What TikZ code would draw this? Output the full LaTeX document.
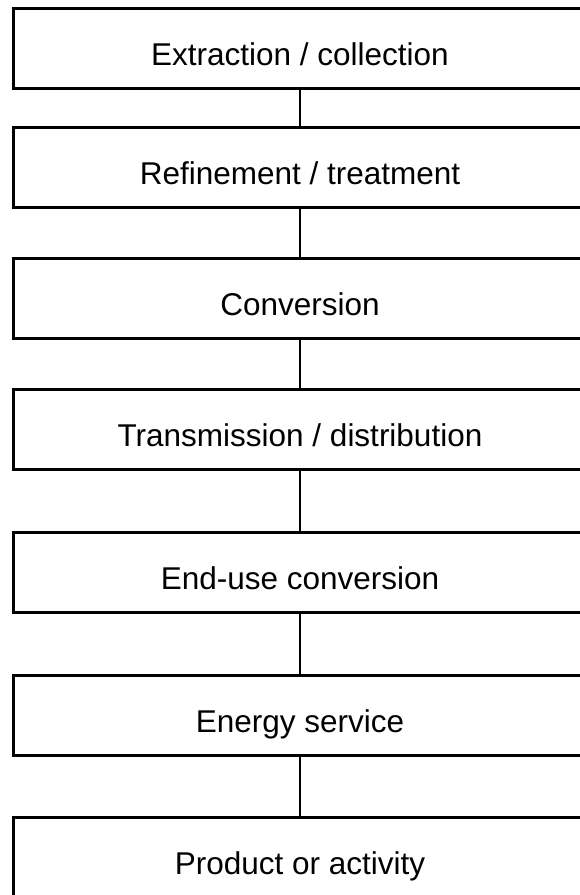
\documentclass[tikz,border=0pt]{standalone}
\usepackage{fontspec}
\setmainfont{Liberation Sans}
\begin{document}
\begin{tikzpicture}[x=1pt,y=-1pt,
  stagebox/.style={draw=black, line width=3pt, rectangle, minimum width=574pt, minimum height=80pt, inner sep=0pt, text height=34pt, text depth=0pt, font=\fontsize{31.5}{36}\selectfont},
  link/.style={draw=black, line width=2.6pt}]
\clip (0,0) rectangle (580,895);
\fill[white] (0,0) rectangle (580,895);
\node[stagebox] (b1) at (300,48) {Extraction / collection};
\node[stagebox] (b2) at (300,167) {Refinement / treatment};
\node[stagebox] (b3) at (300,298) {Conversion};
\node[stagebox] (b4) at (300,429.5) {Transmission / distribution};
\node[stagebox] (b5) at (300,572.5) {End-use conversion};
\node[stagebox] (b6) at (300,715) {Energy service};
\node[stagebox] (b7) at (300,857) {Product or activity};
\draw[link] (b1.south) -- (b2.north);
\draw[link] (b2.south) -- (b3.north);
\draw[link] (b3.south) -- (b4.north);
\draw[link] (b4.south) -- (b5.north);
\draw[link] (b5.south) -- (b6.north);
\draw[link] (b6.south) -- (b7.north);
\end{tikzpicture}
\end{document}
